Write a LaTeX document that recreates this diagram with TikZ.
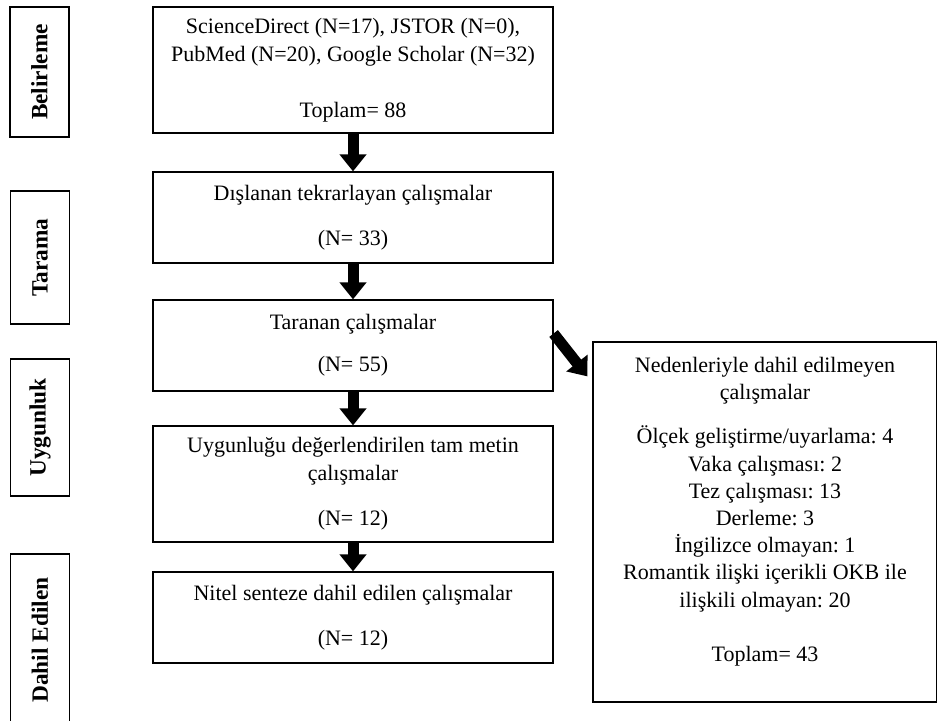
\documentclass[tikz,border=0pt]{standalone}
\usepackage{fontspec}
\setmainfont{Liberation Serif}
\usepackage{tikz}
\usetikzlibrary{positioning, arrows.meta}
\frenchspacing

\begin{document}
\begin{tikzpicture}[
    x=0.75pt, y=-0.75pt,
    every node/.style={align=center, inner sep=0pt, font=\fontsize{16.5}{21}\selectfont},
    stepbox/.style={draw, line width=0.9pt, minimum width=300pt},
    phase/.style={draw, line width=1.1pt, rotate=90, minimum height=44.25pt, font=\fontsize{17.5}{21}\selectfont\bfseries},
    flow/.style={line width=8.25pt, -{Triangle[width=19.5pt, length=12.75pt]}}
]
\useasboundingbox (0,0) rectangle (937,720);

\node[phase, minimum width=97.5pt] (belirleme) at (39.5,72) {Belirleme};
\node[phase, minimum width=99.75pt] (tarama) at (40,257.5) {Tarama};
\node[phase, minimum width=102.75pt] (uygunluk) at (40,427.5) {Uygunluk};
\node[phase, minimum width=129pt] (dahil) at (40,640) {Dahil Edilen};

\node[stepbox, minimum height=94.5pt] (kayit) at (353,70)
    {ScienceDirect (N=17), JSTOR (N=0),\\ PubMed (N=20), Google Scholar (N=32)\\[21pt] Toplam= 88};
\node[stepbox, minimum height=68.25pt] (tekrar) at (353,217.5)
    {Dışlanan tekrarlayan çalışmalar\\[12.75pt] (N= 33)};
\node[stepbox, minimum height=68.25pt] (taranan) at (353,345.5)
    {Taranan çalışmalar\\[10.5pt] (N= 55)};
\node[stepbox, minimum height=87pt] (tammetin) at (353,484)
    {Uygunluğu değerlendirilen tam metin\\ çalışmalar\\[12.75pt] (N= 12)};
\node[stepbox, minimum height=68.25pt] (nitel) at (353,617.5)
    {Nitel senteze dahil edilen çalışmalar\\[12.75pt] (N= 12)};

\node[draw, line width=0.9pt, minimum width=258pt, minimum height=270pt] (dislanan) at (765,522) {};
\node[anchor=north, font=\fontsize{16.5}{20.4}\selectfont] (nedenler) at (765,357)
    {Nedenleriyle dahil edilmeyen\\ çalışmalar\\[12.75pt]
     Ölçek geliştirme/uyarlama: 4\\ Vaka çalışması: 2\\ Tez çalışması: 13\\ Derleme: 3\\
     İngilizce olmayan: 1\\ Romantik ilişki içerikli OKB ile\\ ilişkili olmayan: 20\\[20.4pt]
     Toplam= 43};

\draw[flow] (kayit.south) -- (tekrar.north);
\draw[flow] (tekrar.south) -- (taranan.north);
\draw[flow] (taranan.south) -- (tammetin.north);
\draw[flow] (tammetin.south) -- (nitel.north);
\draw[flow] ([yshift=9pt]taranan.east) -- ([xshift=-3.75pt, yshift=-26.25pt]dislanan.north west);
\end{tikzpicture}
\end{document}
